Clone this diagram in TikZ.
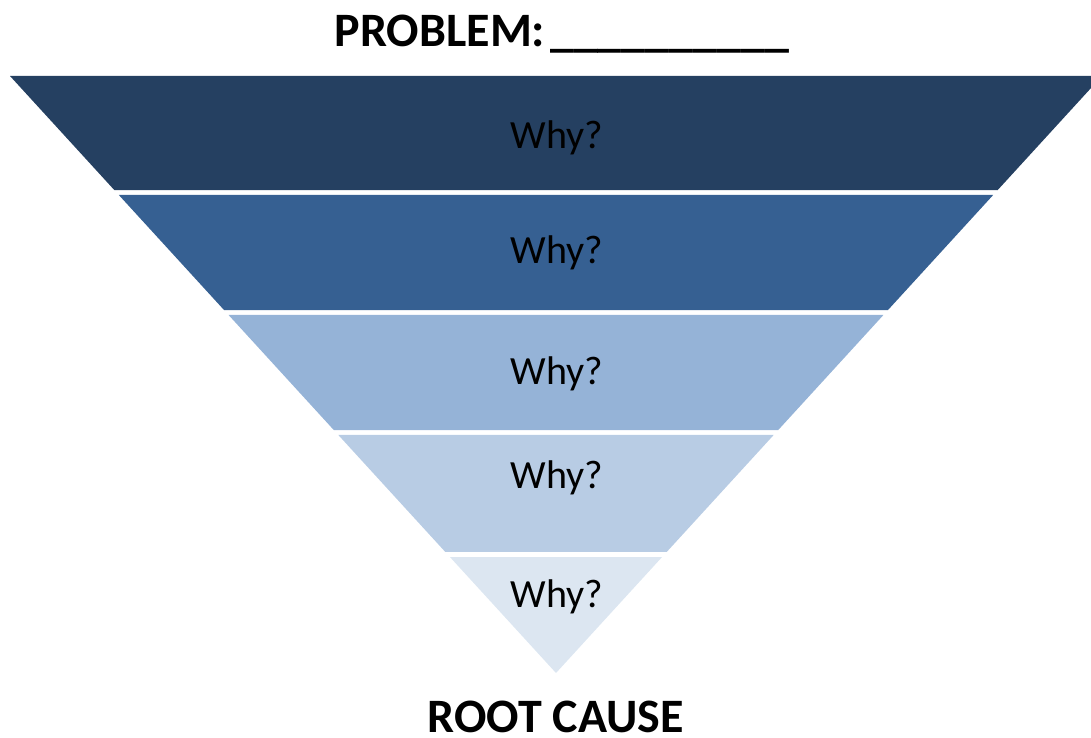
\documentclass[tikz,border=0pt]{standalone}
\usepackage{fontspec}
\setmainfont{Carlito}
\usetikzlibrary{calc}

\definecolor{whyA}{HTML}{254061}
\definecolor{whyB}{HTML}{366092}
\definecolor{whyC}{HTML}{95B3D7}
\definecolor{whyD}{HTML}{B8CCE4}
\definecolor{whyE}{HTML}{DCE6F1}

\begin{document}
\begin{tikzpicture}[x=1pt,y=-1pt]
    \useasboundingbox (0,0) rectangle (1091,738);
    \coordinate (TL) at (10,76);
    \coordinate (TR) at (1102,76);
    \coordinate (tip) at (556,673);
    \foreach \ta/\tb/\col/\ty [count=\i] in {0/0.191/whyA/149, 0.1993/0.392/whyB/263, 0.4003/0.593/whyC/384, 0.6013/0.7973/whyD/488, 0.8057/1/whyE/607}{
        \fill[\col] ($(TL)!\ta!(tip)$) -- ($(TR)!\ta!(tip)$) -- ($(TR)!\tb!(tip)$) -- ($(TL)!\tb!(tip)$) -- cycle;
        \node (why\i) [anchor=base, inner sep=0pt, font=\fontsize{40}{48}\selectfont] at (557,\ty) {Why?};
    }
    \begin{scope}[every node/.style={anchor=base, inner sep=0pt, font=\fontsize{48}{56}\selectfont\bfseries}]
        \node (problem) at (562,47) {PROBLEM:\kern5pt\_\_\_\_\_\_\_\_\_\_};
        \node (root) [text depth=0pt] at (556,732) {ROOT CAUSE};
    \end{scope}
\end{tikzpicture}
\end{document}
